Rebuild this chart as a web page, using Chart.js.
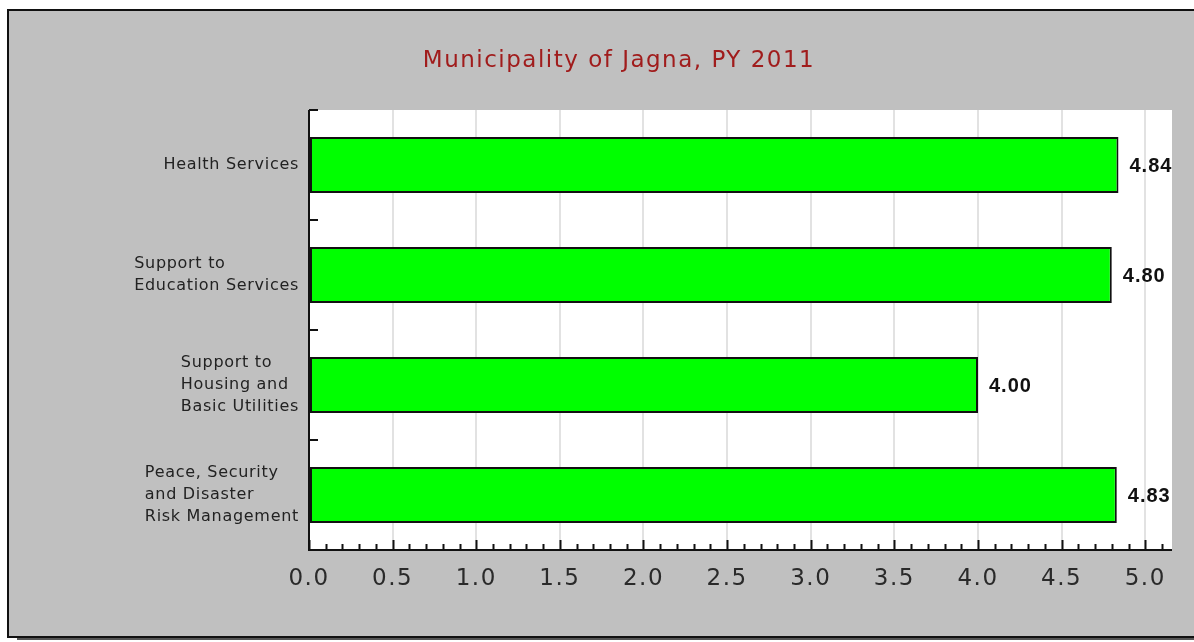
<!DOCTYPE html>
<html>
<head>
<meta charset="utf-8">
<script src="https://cdn.jsdelivr.net/npm/chart.js@4"></script>
<style>
  body { margin: 0; background: #fff; overflow: hidden; }
  canvas { display: block; }
</style>
</head>
<body>
<canvas id="chart" width="1194" height="642"></canvas>
<script>
const categories = [
  ["Health Services"],
  ["Support to", "Education Services"],
  ["Support to", "Housing and", "Basic Utilities"],
  ["Peace, Security", "and Disaster", "Risk Management"]
];
const scores = [4.84, 4.80, 4.00, 4.83];
const titleText = "Municipality of Jagna, PY 2011";

// frame, gray panel, white plot area, title, axis ticks, labels
const decor = {
  id: "decor",
  beforeDraw(chart) {
    const ctx = chart.ctx;
    const a = chart.chartArea;
    const W = 1194;
    ctx.save();
    ctx.fillStyle = "#ffffff";
    ctx.fillRect(0, 0, W, 642);
    ctx.fillStyle = "#555";
    ctx.fillRect(17, 637, W, 3);
    ctx.fillStyle = "#c0c0c0";
    ctx.fillRect(8, 10, W, 627);
    ctx.fillStyle = "#111";
    ctx.fillRect(7, 9, W, 2);
    ctx.fillRect(7, 9, 2, 629);
    ctx.fillRect(7, 636, W, 2);
    ctx.fillStyle = "#ffffff";
    ctx.fillRect(a.left, a.top, a.right - a.left, a.bottom - a.top);
    // title
    ctx.font = "23px 'DejaVu Sans'";
    if ("letterSpacing" in ctx) ctx.letterSpacing = "1.5px";
    ctx.fillStyle = "#a01c1c";
    ctx.textAlign = "center";
    ctx.textBaseline = "middle";
    ctx.fillText(titleText, 619, 61);
    ctx.restore();
    // wider spacing for the x tick labels drawn by the scale
    if ("letterSpacing" in ctx) ctx.letterSpacing = "1.5px";
  },
  beforeDatasetsDraw(chart) {
    if ("letterSpacing" in chart.ctx) chart.ctx.letterSpacing = "0px";
  },
  afterDraw(chart) {
    const ctx = chart.ctx;
    const a = chart.chartArea;
    const xs = chart.scales.x;
    const ys = chart.scales.y;
    ctx.save();
    ctx.strokeStyle = "#111";
    ctx.lineWidth = 2;
    ctx.beginPath();
    ctx.moveTo(a.left, a.top);
    ctx.lineTo(a.left, a.bottom);
    ctx.lineTo(a.right, a.bottom);
    ctx.stroke();
    // x ticks pointing inward
    ctx.beginPath();
    xs.ticks.forEach(t => {
      const px = Math.round(xs.getPixelForValue(t.value)) + 0.5;
      const major = Math.round(t.value * 10) % 5 === 0;
      ctx.moveTo(px, a.bottom);
      ctx.lineTo(px, a.bottom - (major ? 10 : 6));
    });
    // y ticks at category boundaries
    const band = ys.getPixelForValue(1) - ys.getPixelForValue(0);
    for (let i = 0; i < categories.length; i++) {
      const py = Math.round(ys.getPixelForValue(i) - band / 2);
      ctx.moveTo(a.left, py);
      ctx.lineTo(a.left + 9, py);
    }
    ctx.stroke();
    // category labels: lines left aligned, block right aligned
    ctx.font = "16px 'DejaVu Sans'";
    if ("letterSpacing" in ctx) ctx.letterSpacing = "0.7px";
    ctx.fillStyle = "#222";
    ctx.textBaseline = "middle";
    ctx.textAlign = "left";
    categories.forEach((lines, i) => {
      const cy = ys.getPixelForValue(i);
      const w = Math.max(...lines.map(l => ctx.measureText(l).width));
      const x0 = a.left - 10 - w;
      lines.forEach((l, j) => {
        ctx.fillText(l, x0, cy + (j - (lines.length - 1) / 2) * 22);
      });
    });
    // value labels
    ctx.font = "bold 20px 'Liberation Sans'";
    if ("letterSpacing" in ctx) ctx.letterSpacing = "1px";
    ctx.fillStyle = "#111";
    chart.getDatasetMeta(0).data.forEach((bar, i) => {
      ctx.fillText(scores[i].toFixed(2), bar.x + 11, bar.y + 1);
    });
    ctx.restore();
  }
};

new Chart(document.getElementById("chart"), {
  type: "bar",
  plugins: [decor],
  data: {
    labels: categories,
    datasets: [{
      data: scores,
      backgroundColor: "#00ff00",
      borderColor: "#111",
      borderWidth: 2,
      borderSkipped: false,
      barPercentage: 0.51,
      categoryPercentage: 1
    }]
  },
  options: {
    indexAxis: "y",
    responsive: false,
    animation: false,
    layout: { padding: { left: 309, right: 22, top: 110, bottom: 0 } },
    plugins: {
      legend: { display: false },
      tooltip: { enabled: false },
      title: { display: false }
    },
    scales: {
      x: {
        min: 0,
        max: 5.16,
        border: { display: false },
        grid: {
          drawTicks: false,
          lineWidth: 2,
          color: c => {
            const v = Math.round(c.tick.value * 10);
            return v > 0 && v % 5 === 0 ? "#e2e2e2" : "rgba(0,0,0,0)";
          }
        },
        ticks: {
          stepSize: 0.1,
          includeBounds: false,
          autoSkip: false,
          maxRotation: 0,
          padding: 15,
          color: "#2a2a2a",
          font: { family: "'DejaVu Sans'", size: 23 },
          callback: v => (Math.round(v * 10) % 5 === 0 ? v.toFixed(1) : "")
        },
        afterFit: s => { s.height = 92; }
      },
      y: {
        border: { display: false },
        grid: { display: false },
        ticks: { display: false },
        afterFit: s => { s.width = 0; }
      }
    }
  }
});
</script>
</body>
</html>
